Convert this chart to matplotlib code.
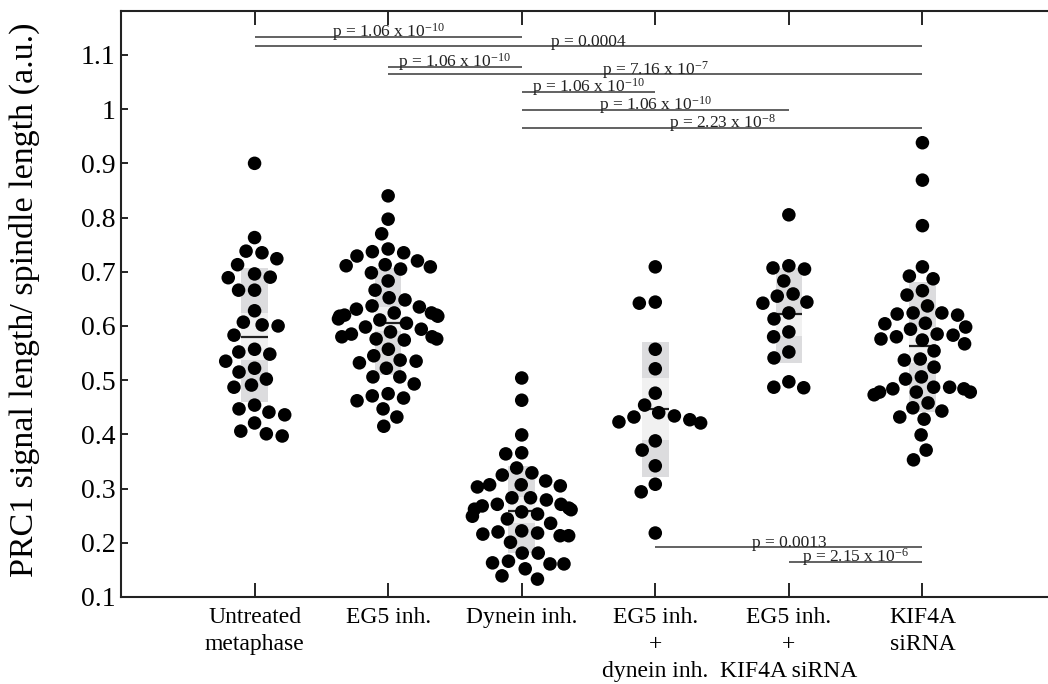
import numpy as np
import matplotlib
matplotlib.use('Agg')
import matplotlib.pyplot as plt
from matplotlib.ticker import FuncFormatter
from matplotlib.patches import Rectangle

plt.rcParams['font.family'] = ['Liberation Serif', 'DejaVu Serif']
plt.rcParams['mathtext.fontset'] = 'custom'
plt.rcParams['mathtext.rm'] = 'Liberation Serif'
plt.rcParams['mathtext.it'] = 'Liberation Serif:italic'
plt.rcParams['mathtext.bf'] = 'Liberation Serif:bold'

categories = ['Untreated\nmetaphase', 'EG5 inh.', 'Dynein inh.',
              'EG5 inh.\n+\ndynein inh.', 'EG5 inh.\n+\nKIF4A siRNA', 'KIF4A\nsiRNA']

untreated = [0.900, 0.763, 0.735, 0.738, 0.713, 0.724, 0.689, 0.696, 0.690,
             0.666, 0.666, 0.628, 0.607, 0.600, 0.602, 0.583, 0.557, 0.552,
             0.548, 0.535, 0.515, 0.522, 0.502, 0.487, 0.491, 0.441, 0.454,
             0.447, 0.436, 0.421, 0.397, 0.406, 0.401]

eg5 = [0.840, 0.797, 0.770, 0.729, 0.737, 0.742, 0.735, 0.711, 0.713, 0.720,
       0.709, 0.705, 0.698, 0.683, 0.666, 0.648, 0.652, 0.635, 0.637, 0.631,
       0.624, 0.618, 0.620, 0.624, 0.618, 0.620, 0.611, 0.613, 0.605, 0.594,
       0.598, 0.574, 0.576, 0.580, 0.589, 0.585, 0.580, 0.576, 0.557, 0.537,
       0.545, 0.535, 0.532, 0.522, 0.506, 0.506, 0.493, 0.467, 0.475, 0.471,
       0.447, 0.462, 0.415, 0.432]

dynein = [0.504, 0.463, 0.399, 0.364, 0.366, 0.338, 0.325, 0.329, 0.305, 0.307,
          0.314, 0.307, 0.303, 0.279, 0.283, 0.283, 0.257, 0.262, 0.268, 0.271,
          0.271, 0.264, 0.261, 0.249, 0.253, 0.236, 0.244, 0.220, 0.213, 0.216,
          0.218, 0.222, 0.213, 0.201, 0.181, 0.181, 0.163, 0.161, 0.161, 0.166,
          0.152, 0.133, 0.139]

eg5_dynein = [0.709, 0.642, 0.644, 0.557, 0.521, 0.476, 0.454, 0.421, 0.427,
              0.434, 0.440, 0.432, 0.423, 0.388, 0.371, 0.342, 0.308, 0.294,
              0.218]

eg5_kif4a = [0.805, 0.707, 0.711, 0.705, 0.683, 0.655, 0.659, 0.642, 0.644,
             0.624, 0.613, 0.580, 0.589, 0.541, 0.552, 0.486, 0.497, 0.487]

kif4a = [0.938, 0.869, 0.785, 0.709, 0.687, 0.692, 0.665, 0.657, 0.637, 0.620,
         0.624, 0.624, 0.622, 0.605, 0.604, 0.594, 0.598, 0.583, 0.585, 0.580,
         0.574, 0.576, 0.567, 0.554, 0.537, 0.539, 0.524, 0.506, 0.502, 0.473,
         0.478, 0.484, 0.487, 0.487, 0.484, 0.478, 0.478, 0.458, 0.443, 0.449,
         0.428, 0.432, 0.399, 0.371, 0.353]

groups = [untreated, eg5, dynein, eg5_dynein, eg5_kif4a, kif4a]

box_low = [0.460, 0.510, 0.181, 0.321, 0.532, 0.441]
box_high = [0.707, 0.707, 0.342, 0.571, 0.707, 0.681]
ci_low = [0.537, 0.590, 0.236, 0.390, 0.581, 0.532]
ci_high = [0.624, 0.635, 0.285, 0.504, 0.622, 0.598]
medians = [0.580, 0.605, 0.259, 0.447, 0.622, 0.563]

# comparisons: (group a, group b, p-value text, bar level)
comp_a = [0, 0, 1, 1, 2, 2, 2, 3, 4]
comp_b = [2, 5, 2, 5, 3, 4, 5, 5, 5]
comp_p = [r'1.06 x 10$^{-10}$', '0.0004', r'1.06 x 10$^{-10}$', r'7.16 x 10$^{-7}$',
          r'1.06 x 10$^{-10}$', r'1.06 x 10$^{-10}$', r'2.23 x 10$^{-8}$',
          '0.0013', r'2.15 x 10$^{-6}$']
comp_level = [1.133, 1.117, 1.078, 1.064, 1.032, 0.999, 0.966, 0.193, 0.165]

yticks = [0.1, 0.2, 0.3, 0.4, 0.5, 0.6, 0.7, 0.8, 0.9, 1.0, 1.1]

fig = plt.figure(figsize=(10.48, 6.84), dpi=100)
ax = fig.add_axes([121 / 1048, 87 / 684, (1056 - 121) / 1048, 586 / 684])
positions = np.arange(1, len(groups) + 1)
ax.set_xlim(0, 7)
ax.set_ylim(0.1, 1.181)

# pixel scale for swarm layout
p0 = ax.transData.transform((0, 0))
p1 = ax.transData.transform((1, 1))
sx = p1[0] - p0[0]
sy = p1[1] - p0[1]


def swarm_offsets(values, diam, soft=30.0, width=50.0):
    y = np.asarray(values) * sy
    order = np.argsort(-y, kind='stable')
    placed_x, placed_y = [], []
    xs = np.zeros(len(y))
    for i in order:
        yi = y[i]
        cands = [0.0]
        for xj, yj in zip(placed_x, placed_y):
            dy = abs(yj - yi)
            if dy < diam:
                dx = np.sqrt(diam ** 2 - dy ** 2)
                cands += [xj + dx, xj - dx]
        cands = sorted(cands, key=lambda c: (abs(c), c))
        for c in cands:
            ok = True
            for xj, yj in zip(placed_x, placed_y):
                if (c - xj) ** 2 + (yi - yj) ** 2 < diam ** 2 - 1e-6:
                    ok = False
                    break
            if ok:
                xs[i] = c
                break
        placed_x.append(xs[i])
        placed_y.append(yi)
    # soft limit on the spread width (outer points may overlap)
    ax_ = np.abs(xs)
    comp = np.where(ax_ <= soft, ax_,
                    soft + (width - soft) * np.tanh((ax_ - soft) / (width - soft)))
    return np.sign(xs) * comp / sx


box_w = 0.2
for pos, lo, hi, cl, ch, med in zip(positions, box_low, box_high, ci_low, ci_high, medians):
    ax.add_patch(Rectangle((pos - box_w / 2, lo), box_w, hi - lo,
                           facecolor='#dcdcde', edgecolor='none', zorder=1))
    ax.add_patch(Rectangle((pos - box_w / 2, cl), box_w, ch - cl,
                           facecolor='#f1f1f1', edgecolor='none', zorder=1.1))
    ax.plot([pos - box_w / 2, pos + box_w / 2], [med, med], color='#222222',
            lw=1.6, zorder=1.2, solid_capstyle='butt')

for pos, vals in zip(positions, groups):
    off = swarm_offsets(vals, 16.0)
    ax.scatter(pos + off, vals, s=95, color='black', edgecolors='none', zorder=3)

for a, b, ptxt, lvl in zip(comp_a, comp_b, comp_p, comp_level):
    xa, xb = positions[a], positions[b]
    ax.plot([xa, xb], [lvl, lvl], color='#555555', lw=1.3, zorder=2,
            solid_capstyle='butt')
    ax.annotate('p = ' + ptxt, xy=((xa + xb) / 2, lvl), xytext=(0, 0),
                textcoords='offset points', ha='center', va='baseline',
                fontsize=12.5, color='#222222', zorder=4)

ax.set_xticks(positions)
ax.set_xticklabels(categories, fontsize=17, linespacing=1.38)
ax.set_yticks(yticks)
ax.yaxis.set_major_formatter(FuncFormatter(lambda v, p: '%g' % round(v, 2)))
ax.tick_params(axis='y', labelsize=20, direction='in', length=5, width=1.2,
               left=True, right=False, pad=4)
ax.tick_params(axis='x', direction='in', length=10, width=1.2, top=True,
               bottom=True, pad=7)
ax.set_ylabel('PRC1 signal length/ spindle length (a.u.)', fontsize=24.5)
ax.yaxis.set_label_coords((40 - 121) / 935, 0.507)

for side in ['left', 'top', 'bottom']:
    ax.spines[side].set_linewidth(1.5)
    ax.spines[side].set_color('#222222')
ax.spines['right'].set_visible(False)

fig.savefig('out.png', dpi=100)
